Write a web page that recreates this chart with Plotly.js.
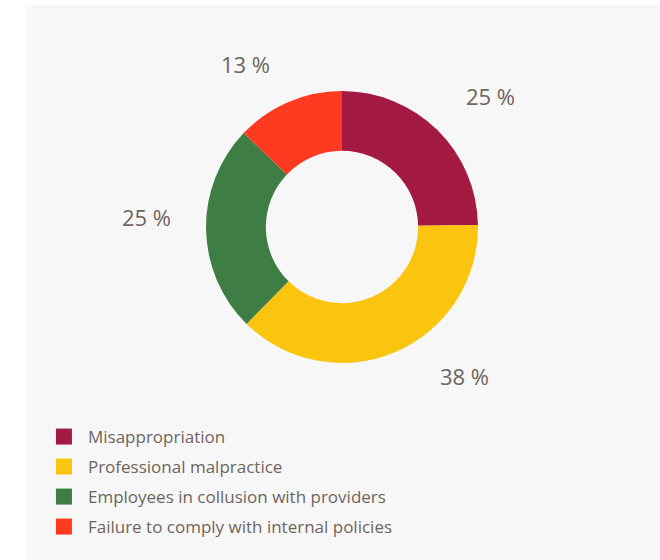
<!DOCTYPE html>
<html>
<head>
<meta charset="utf-8">
<script src="https://cdn.plot.ly/plotly-3.0.1.min.js"></script>
<style>
  html, body { margin: 0; padding: 0; background: #ffffff; }
  #chart { position: absolute; left: 26px; top: 5px; width: 634px; height: 555px; }
</style>
</head>
<body>
<div id="chart"></div>
<script>
// Share of cases by type (percent)
const categories = [
  'Misappropriation',
  'Professional malpractice',
  'Employees in collusion with providers',
  'Failure to comply with internal policies'
];
const shares = [25, 38, 25, 13];
const sliceColors = ['#a21a42', '#fbc40e', '#3e7e44', '#fe3a20'];

// Where each percentage label is centred (paper fractions)
const labelPos = [
  [0.7319, 0.8356],
  [0.6924, 0.3311],
  [0.1893, 0.6189],
  [0.3470, 0.8937]
];

const textColor = '#6e655e';
const font = 'Open Sans, Noto Sans, sans-serif';

const donut = {
  type: 'pie',
  labels: categories,
  values: shares,
  marker: { colors: sliceColors, line: { width: 0 } },
  hole: 0.56,
  sort: false,
  direction: 'clockwise',
  rotation: 0,
  textinfo: 'none',
  hoverinfo: 'none',
  showlegend: false,
  domain: { x: [0.2839, 0.7129], y: [0.3550, 0.8450] }
};

// Square swatches for the legend
const legendTraces = categories.map((name, i) => ({
  type: 'scatter',
  mode: 'markers',
  x: [null],
  y: [null],
  name: name,
  legendgroup: 'g' + i,
  marker: { symbol: 'square', size: 16, color: sliceColors[i] },
  hoverinfo: 'skip'
}));

const annotations = shares.map((v, i) => ({
  xref: 'paper', yref: 'paper',
  x: labelPos[i][0], y: labelPos[i][1],
  xanchor: 'center', yanchor: 'middle',
  text: v + ' %',
  showarrow: false,
  font: { family: font, size: 22, color: textColor }
}));

const layout = {
  width: 634,
  height: 555,
  margin: { l: 0, r: 0, t: 0, b: 0 },
  paper_bgcolor: '#f7f7f7',
  plot_bgcolor: 'rgba(0,0,0,0)',
  xaxis: { visible: false, domain: [0, 0.01] },
  yaxis: { visible: false, domain: [0, 0.01] },
  hovermode: false,
  showlegend: true,
  legend: {
    x: 0.022, xanchor: 'left',
    y: 0.254, yanchor: 'top',
    bgcolor: 'rgba(0,0,0,0)',
    itemwidth: 38,
    tracegroupgap: 4.9,
    font: { family: font, size: 17, color: textColor }
  },
  annotations: annotations
};

Plotly.newPlot('chart', [donut].concat(legendTraces), layout, { displayModeBar: false, staticPlot: true });
</script>
</body>
</html>
